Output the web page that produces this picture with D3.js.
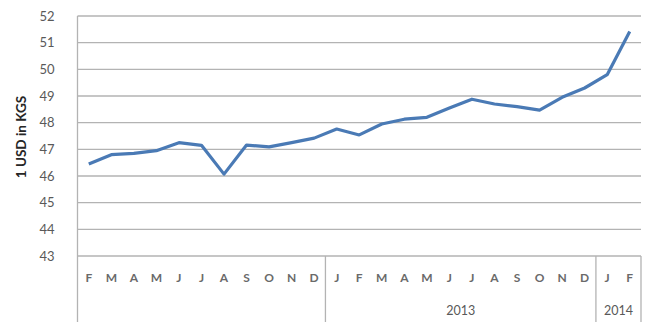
<!DOCTYPE html>
<html>
<head>
<meta charset="utf-8">
<script src="https://cdn.jsdelivr.net/npm/d3@7"></script>
<style>
	body { margin: 0; background: #fff; }
	svg { display: block; }
	.axis text { font-family: Lato, "Open Sans", sans-serif; fill: #595959; }
</style>
</head>
<body>
<script>
// month letters, Feb 2012 .. Feb 2014
var months = ["F","M","A","M","J","J","A","S","O","N","D",
	"J","F","M","A","M","J","J","A","S","O","N","D",
	"J","F"];
// exchange rate, KGS per 1 USD
var rates = [46.45, 46.8, 46.85, 46.95, 47.25, 47.15, 46.07, 47.16, 47.09, 47.25, 47.42,
	47.76, 47.54, 47.95, 48.13, 48.2, 48.55, 48.88, 48.7, 48.6, 48.47, 48.95, 49.3,
	49.8, 51.42];
// year groups: label, first index, last index (exclusive)
var years = [
	{ label: "", start: 0, end: 11 },
	{ label: "2013", start: 11, end: 23 },
	{ label: "2014", start: 23, end: 25 }
];
var yTicks = [43, 44, 45, 46, 47, 48, 49, 50, 51, 52];

var w = 651, h = 322;
var margin = {top: 16, right: 10, bottom: 66, left: 77.5};

var svg = d3.select("body").append("svg")
	.attr("width", w)
	.attr("height", h);

var idx = d3.range(months.length);

var xScale = d3.scaleBand()
	.domain(idx)
	.range([margin.left, w - margin.right]);

var yScale = d3.scaleLinear()
	.domain([43, 52])
	.range([h - margin.bottom, margin.top]);

// gridlines
svg.append("g")
	.selectAll("line")
	.data(yTicks)
	.enter()
	.append("line")
	.attr("x1", margin.left)
	.attr("x2", w - margin.right)
	.attr("y1", function(d) { return yScale(d); })
	.attr("y2", function(d) { return yScale(d); })
	.attr("stroke", "#b3b3b3")
	.attr("stroke-width", 1.3);

// y axis
var yAxis = d3.axisLeft(yScale)
	.tickValues(yTicks)
	.tickSize(0)
	.tickPadding(23);

var gy = svg.append("g")
	.attr("class", "axis")
	.attr("transform", "translate(" + margin.left + ",0)")
	.call(yAxis);
gy.select(".domain").remove();
gy.selectAll("text").style("font-size", "13px");

svg.append("line")
	.attr("x1", margin.left).attr("x2", margin.left)
	.attr("y1", margin.top).attr("y2", h)
	.attr("stroke", "#b3b3b3")
	.attr("stroke-width", 1.3);

// x axis (month letters)
var xAxis = d3.axisBottom(xScale)
	.tickSize(0)
	.tickPadding(17)
	.tickFormat(function(i) { return months[i]; });

var gx = svg.append("g")
	.attr("class", "axis")
	.attr("transform", "translate(0," + (h - margin.bottom) + ")")
	.call(xAxis);
gx.select(".domain").remove();
gx.selectAll("text").style("font-size", "12px").style("font-weight", "bold").style("fill", "#6a6a6a");

// year separators and labels
svg.append("g")
	.selectAll("line")
	.data(years.slice(1))
	.enter()
	.append("line")
	.attr("x1", function(d) { return xScale(d.start); })
	.attr("x2", function(d) { return xScale(d.start); })
	.attr("y1", h - margin.bottom)
	.attr("y2", h)
	.attr("stroke", "#b3b3b3")
	.attr("stroke-width", 1.3);

svg.append("line")
	.attr("x1", w - margin.right).attr("x2", w - margin.right)
	.attr("y1", h - margin.bottom).attr("y2", h)
	.attr("stroke", "#b3b3b3")
	.attr("stroke-width", 1.3);

svg.append("g")
	.attr("class", "axis")
	.selectAll("text")
	.data(years)
	.enter()
	.append("text")
	.attr("x", function(d) {
		return (xScale(d.start) + xScale(d.end - 1) + xScale.bandwidth()) / 2;
	})
	.attr("y", 315)
	.attr("text-anchor", "middle")
	.style("font-size", "12.5px")
	.text(function(d) { return d.label; });

// y title
svg.append("text")
	.attr("transform", "translate(26," + 137 + ") rotate(-90)")
	.attr("text-anchor", "middle")
	.style("font-family", "Lato, 'Open Sans', sans-serif")
	.style("font-weight", "bold")
	.style("font-size", "13.5px")
	.attr("fill", "#262626")
	.text("1 USD in KGS");

// the line
var line = d3.line()
	.x(function(d, i) { return xScale(i) + xScale.bandwidth() / 2; })
	.y(function(d) { return yScale(d); });

svg.append("path")
	.datum(rates)
	.attr("fill", "none")
	.attr("stroke", "#4a7ab5")
	.attr("stroke-width", 3.2)
	.attr("stroke-linejoin", "round")
	.attr("d", line);
</script>
</body>
</html>
